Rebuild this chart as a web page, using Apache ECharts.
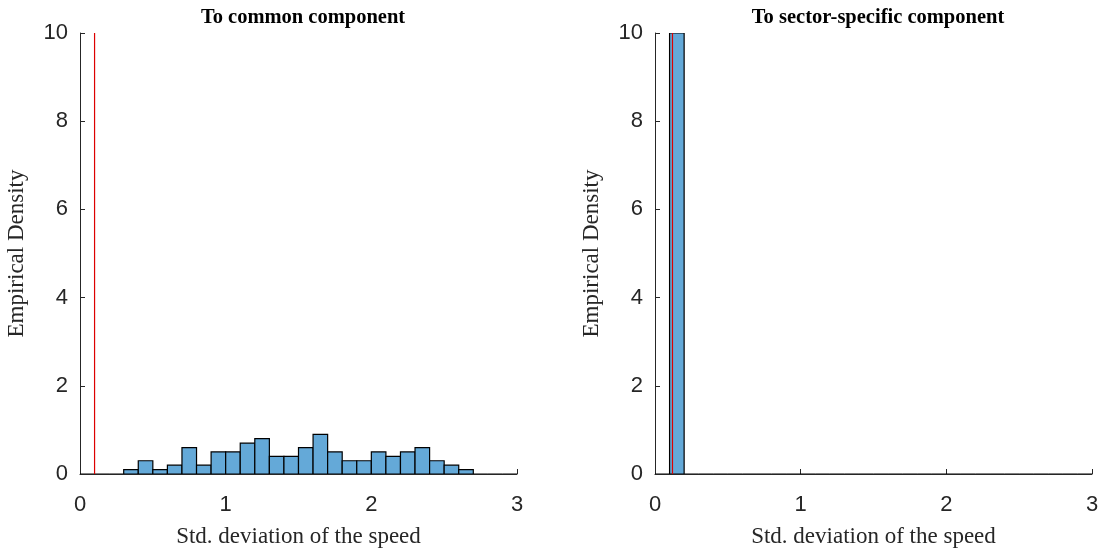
<!DOCTYPE html>
<html>
<head>
<meta charset="utf-8">
<script src="https://cdn.jsdelivr.net/npm/echarts@6/dist/echarts.min.js"></script>
<style>
  html, body { margin: 0; padding: 0; background: #fff; }
  #chart { width: 1104px; height: 553px; }
</style>
</head>
<body>
<div id="chart"></div>
<script>
// Histogram bins: width 0.1, first edge at 0
const binWidth = 0.1;
const binStart = 0;
// Empirical density per bin, 0.0–3.0
const commonDensity = [0, 0, 0, 0.1, 0.3, 0.1, 0.2, 0.6, 0.2, 0.5,
                       0.5, 0.7, 0.8, 0.4, 0.4, 0.6, 0.9, 0.5, 0.3, 0.3,
                       0.5, 0.4, 0.5, 0.6, 0.3, 0.2, 0.1, 0, 0, 0];
const sectorDensity = [0, 10, 0, 0, 0, 0, 0, 0, 0, 0,
                       0, 0, 0, 0, 0, 0, 0, 0, 0, 0,
                       0, 0, 0, 0, 0, 0, 0, 0, 0, 0];
// Reference (true) value marked in red
const commonRef = 0.1;
const sectorRef = 0.12;
const titles = ['To common component', 'To sector-specific component'];
const xTicks = [0, 1, 2, 3];
const yTicks = [0, 2, 4, 6, 8, 10];

const axisColor = '#262626';
const barFill = '#64a9d8';
const tickFont = { fontFamily: 'Liberation Sans', fontSize: 22, color: axisColor };
const serif = 'Liberation Serif';

function binData(values) {
  return values.map((v, i) => [binStart + i * binWidth, binStart + (i + 1) * binWidth, v]);
}

function histSeries(idx, values) {
  return {
    type: 'custom',
    xAxisIndex: idx, yAxisIndex: idx,
    data: binData(values),
    encode: { x: [0, 1], y: 2 },
    clip: true,
    z: 2,
    renderItem: function (params, api) {
      const p0 = api.coord([api.value(0), api.value(2)]);
      const p1 = api.coord([api.value(1), 0]);
      return {
        type: 'rect',
        shape: { x: p0[0], y: p0[1], width: p1[0] - p0[0], height: p1[1] - p0[1] },
        style: { fill: barFill, stroke: '#000', lineWidth: 1.2 }
      };
    }
  };
}

// Vertical marker at the reference value, drawn over the bars
function refSeries(idx, x) {
  return {
    type: 'custom',
    xAxisIndex: idx, yAxisIndex: idx,
    data: [[x, 0, 10]],
    encode: { x: 0, y: [1, 2] },
    z: 10,
    silent: true,
    renderItem: function (params, api) {
      const a = api.coord([api.value(0), api.value(1)]);
      const b = api.coord([api.value(0), api.value(2)]);
      return {
        type: 'line',
        shape: { x1: a[0], y1: a[1], x2: b[0], y2: b[1] },
        style: { stroke: '#dd0000', lineWidth: 1.2 }
      };
    }
  };
}

function xAxis(idx) {
  return {
    type: 'value', gridIndex: idx, min: 0, max: 3, interval: 1,
    name: 'Std. deviation of the speed', nameLocation: 'middle', nameGap: 51,
    nameTextStyle: { fontFamily: serif, fontSize: 23, color: axisColor },
    axisLine: { show: true, onZero: false, lineStyle: { color: axisColor, width: 1 } },
    axisTick: { show: true, inside: true, length: 5, lineStyle: { color: axisColor } },
    axisLabel: Object.assign({ margin: 20, formatter: v => xTicks.includes(v) ? String(v) : '' }, tickFont),
    splitLine: { show: false }
  };
}

function yAxis(idx) {
  return {
    type: 'value', gridIndex: idx, min: 0, max: 10, interval: 2,
    name: 'Empirical Density', nameLocation: 'middle', nameGap: 52, nameRotate: 90,
    nameTextStyle: { fontFamily: serif, fontSize: 23, color: axisColor },
    axisLine: { show: true, onZero: false, lineStyle: { color: axisColor, width: 1 } },
    axisTick: { show: true, inside: true, length: 5, lineStyle: { color: axisColor } },
    axisLabel: Object.assign({ margin: 12, formatter: v => yTicks.includes(v) ? String(v) : '' }, tickFont),
    splitLine: { show: false }
  };
}

const chart = echarts.init(document.getElementById('chart'), null, { renderer: 'canvas' });
chart.setOption({
  animation: false,
  backgroundColor: '#fff',
  title: [
    { text: titles[0], left: 298, top: 2, textAlign: 'center',
      textStyle: { fontFamily: serif, fontWeight: 'bold', fontSize: 20.5, color: '#000' } },
    { text: titles[1], left: 873, top: 2, textAlign: 'center',
      textStyle: { fontFamily: serif, fontWeight: 'bold', fontSize: 20.5, color: '#000' } }
  ],
  grid: [
    { left: 80, top: 33, width: 437, height: 443 },
    { left: 655, top: 33, width: 437, height: 443 }
  ],
  xAxis: [xAxis(0), xAxis(1)],
  yAxis: [yAxis(0), yAxis(1)],
  series: [
    histSeries(0, commonDensity),
    refSeries(0, commonRef),
    histSeries(1, sectorDensity),
    refSeries(1, sectorRef)
  ]
});
</script>
</body>
</html>
